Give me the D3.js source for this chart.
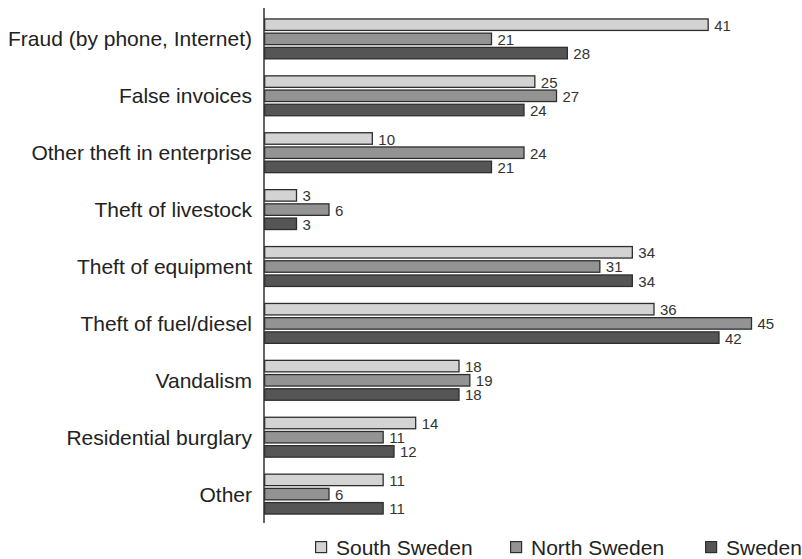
<!DOCTYPE html>
<html><head><meta charset="utf-8">
<script src="https://cdn.jsdelivr.net/npm/d3@7"></script>
<style>body{margin:0;background:#fff}svg{display:block}</style>
</head><body><svg id="c" width="802" height="559"></svg>
<script>
const categories = ["Fraud (by phone, Internet)","False invoices","Other theft in enterprise","Theft of livestock","Theft of equipment","Theft of fuel/diesel","Vandalism","Residential burglary","Other"];
const seriesNames = ["South Sweden","North Sweden","Sweden"];
const southSweden = [41,25,10,3,34,36,18,14,11];
const northSweden = [21,27,24,6,31,45,19,11,6];
const sweden = [28,24,21,3,34,42,18,12,11];
const seriesValues = [southSweden, northSweden, sweden];
const colors = ["#d3d3d3","#939393","#555555"];

const svg = d3.select("#c");
const font = "'Liberation Sans', Arial, sans-serif";
const x = d3.scaleLinear().domain([0,45]).range([264,751.5]);
const y = d3.scaleBand().domain(categories).range([10.45,522.55]).paddingInner(0.276).paddingOuter(0.138);
const ySub = d3.scaleBand().domain(seriesNames).range([0,y.bandwidth()]).paddingInner(0.1).paddingOuter(0);
const sw = 1.3;

const g = svg.append("g");
categories.forEach((c,i)=>{
  const gg = g.append("g").attr("transform",`translate(0,${y(c)})`);
  seriesNames.forEach((s,j)=>{
    const v = seriesValues[j][i];
    gg.append("rect")
      .attr("x", x(0)+sw/2)
      .attr("y", ySub(s)+sw/2)
      .attr("width", x(v)-x(0)-sw/2)
      .attr("height", ySub.bandwidth()-sw)
      .attr("fill", colors[j]).attr("stroke","#2e2e2e").attr("stroke-width",sw);
    gg.append("text")
      .attr("x", x(v)+6)
      .attr("y", ySub(s)+ySub.bandwidth()/2+6)
      .attr("font-family",font).attr("font-size",15).attr("fill","#333")
      .text(v);
  });
});

// category labels
svg.append("g").selectAll("text").data(categories).join("text")
  .attr("x",252).attr("y",d=>y(d)+y.bandwidth()/2+7.5)
  .attr("text-anchor","end").attr("font-family",font).attr("font-size",21).attr("fill","#222")
  .text(d=>d);

// axis line
svg.append("line").attr("x1",264).attr("x2",264).attr("y1",8).attr("y2",523)
  .attr("stroke","#333").attr("stroke-width",1.5);

// legend
const legX = [315,510,705];
seriesNames.forEach((s,j)=>{
  svg.append("rect").attr("x",legX[j]+0.6).attr("y",541.6).attr("width",11).attr("height",11)
    .attr("fill",colors[j]).attr("stroke","#2e2e2e").attr("stroke-width",1.2);
  svg.append("text").attr("x",legX[j]+21).attr("y",555).attr("font-family",font).attr("font-size",21)
    .attr("fill","#222").text(s);
});
</script></body></html>
